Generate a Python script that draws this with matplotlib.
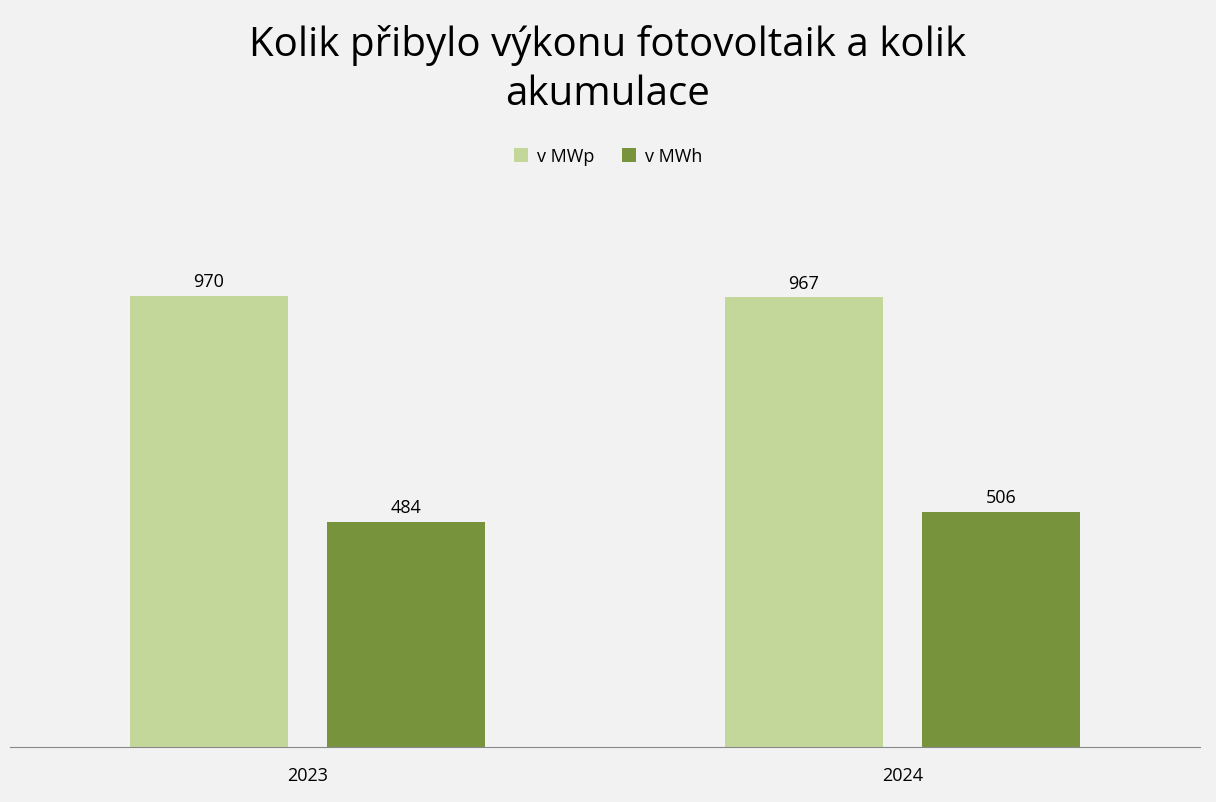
import numpy as np
import matplotlib
matplotlib.use("Agg")
import matplotlib.pyplot as plt

years = ["2023", "2024"]
mwp = [970, 967]
mwh = [484, 506]
series = ["v MWp", "v MWh"]
colors = ["#c4d79b", "#77933c"]

plt.rcParams['font.family'] = ['Open Sans', 'DejaVu Sans']
fig = plt.figure(figsize=(12.16, 8.03), dpi=100, facecolor="#f2f2f2")
ax = fig.add_axes([10/1216, 1-748/803, 1190/1216, 558/803], facecolor="#f2f2f2")

x = np.arange(len(years))
w = 0.266
for off, vals, c, lab in [(-0.166, mwp, colors[0], series[0]), (0.166, mwh, colors[1], series[1])]:
    bars = ax.bar(x + off, vals, w, color=c, label=lab)
    for b, v in zip(bars, vals):
        ax.text(b.get_x() + b.get_width()/2, v + 12, str(v), ha="center", va="bottom", fontsize=13)

ax.set_xlim(-0.5, 1.5); ax.set_ylim(0, 1200)
ax.set_xticks(x, years, fontsize=13)
ax.tick_params(axis="x", length=0, pad=14)
ax.set_yticks([])
for s in ["top", "right", "left"]:
    ax.spines[s].set_visible(False)
ax.spines["bottom"].set_color("#888888")

fig.text(0.5, 1-70/803, "Kolik přibylo výkonu fotovoltaik a kolik\nakumulace", ha="center", va="center",
         fontsize=29, linespacing=1.25)
fig.legend(loc="center", bbox_to_anchor=(0.5, 1-157/803), ncol=2, frameon=False, fontsize=13,
           handlelength=0.8, handleheight=0.8, columnspacing=1.5, handletextpad=0.5)
fig.savefig("out.png", dpi=100, facecolor=fig.get_facecolor())
